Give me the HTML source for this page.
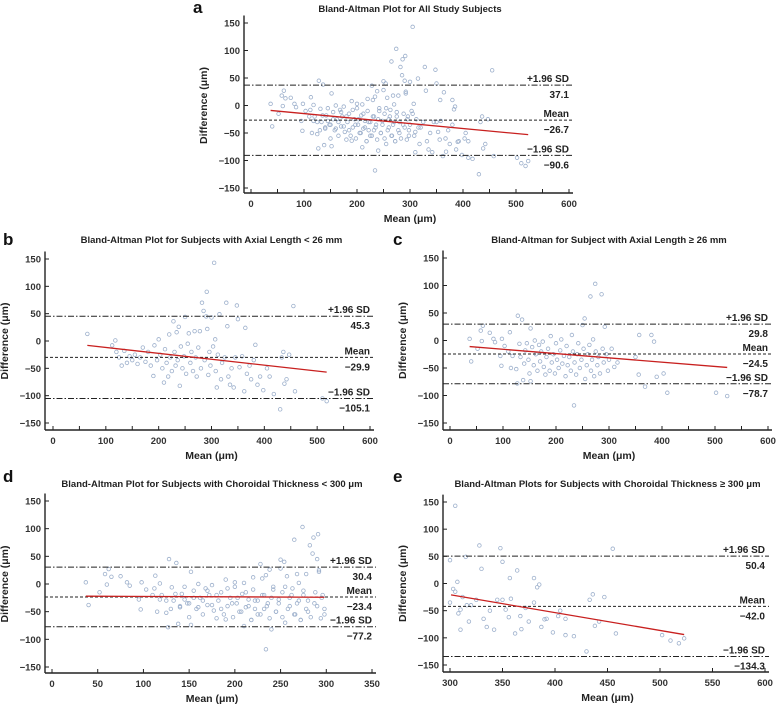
<!DOCTYPE html>
<html><head><meta charset="utf-8"><style>
body{margin:0;background:#fff;width:777px;height:704px;overflow:hidden}
svg{display:block;font-family:"Liberation Sans",Arial,sans-serif}
</style></head><body>
<svg id="fig" width="777" height="704" viewBox="0 0 777 704"></svg>
<script>
// ---- data ----
const longMeans=[37,40,52,58,60,62,75,82,85,95,97,98,103,110,113,115,118,125,127,128,131,133,136,138,140,142,145,148,150,152,152,155,158,160,162,165,168,170,172,175,177,180,182,185,188,190,192,195,198,200,202,205,208,210,212,215,218,220,222,225,228,230,232,234,235,238,240,242,245,248,250,252,254,255,258,260,263,265,266,268,270,272,274,275,278,280,283,286,288,290,292,295,298,300,305,310,316,350,356,357,368,380,385,390,403,410,502,523];
const longDiffs=[3,-38,-15,18,-1,27,14,3,-3,-28,-46,3,-10,-20,15,-50,-28,-52,-78,45,-6,-30,38,-72,-42,-18,-5,-35,-60,-74,22,-12,-45,0,-25,-55,-8,-38,-20,-2,-48,-62,-30,-15,-55,8,-40,-25,-60,-5,-35,-50,-18,2,-42,-28,-65,-10,-45,-30,-55,10,-20,-118,-40,-62,-25,-5,-50,-35,28,-15,40,-70,-45,-25,-8,80,-55,-35,2,-65,103,-20,-45,-30,-60,84,-15,-40,25,-25,-55,-35,-15,-48,-40,-30,-62,10,-84,10,-2,-66,-60,-95,-95,-101];
const shortMeans=[65,112,118,120,125,130,135,140,145,150,155,160,165,170,175,180,185,190,192,197,200,203,207,210,212,215,218,220,222,225,228,230,232,234,236,238,240,242,245,248,250,252,255,257,260,262,265,268,270,272,275,278,280,282,285,287,290,291,292,294,296,298,300,303,305,307,308,310,312,315,318,320,325,328,330,332,335,338,342,345,348,350,353,358,362,364,367,372,375,380,383,387,392,398,405,410,418,430,433,436,438,442,447,455,458,510,518];
const shortDiffs=[13,-8,1,-20,-30,-45,-18,-40,-28,-35,-25,-42,-30,-12,-38,-20,-45,-64,-8,-35,3,-25,-50,-76,-15,-40,-65,12,-30,-55,36,-20,-45,16,-35,26,-82,-10,-50,-28,44,-60,-5,14,-40,-20,-55,18,-30,-65,-12,18,-50,70,55,-35,45,90,22,-62,-20,-45,43,-10,143,3,-55,-85,-25,49,-70,-40,-30,70,27,-65,-80,-50,-85,-30,65,40,-48,-28,-92,24,-60,-45,-70,-35,-7,-80,-65,-90,-50,-65,-97,-125,-30,-20,-78,-70,-25,64,-92,-105,-110];
const limitsA=[37.1,-26.7,-90.6], limitsB=[45.3,-29.9,-105.1], limitsC=[29.8,-24.5,-78.7], limitsD=[30.4,-23.4,-77.2], limitsE=[50.4,-42.0,-134.3];
const regA=[[37,-9],[523,-53]], regB=[[65,-8],[518,-57]], regC=[[37,-11],[523,-49]], regD=[[37,-22],[298,-24]], regE=[[301,-21],[523,-94]];
const yTicks=[150,100,50,0,-50,-100,-150];
const xTicks600=[0,100,200,300,400,500,600], xTicks350=[0,50,100,150,200,250,300,350], xTicksE=[300,350,400,450,500,550,600];

const NS='http://www.w3.org/2000/svg';
const svg=document.getElementById('fig');
function mk(tag,attrs,parent){const e=document.createElementNS(NS,tag);for(const k in attrs)e.setAttribute(k,attrs[k]);(parent||svg).appendChild(e);return e;}
function txt(s,attrs,parent){const e=mk('text',attrs,parent);e.textContent=s;return e;}

function panel(o){
  const g=mk('g',{});
  
  
  const X=v=>o.x0+(v-o.xmin)/(o.xmax-o.xmin)*(o.x1-o.x0);
  const Y=v=>o.y150+(150-v)/300*(o.yn150-o.y150);
  const L=o.left,B=o.bottom;
  const lt=txt(o.letter,{x:o.lx,y:o.ly,'font-size':17,'font-weight':'bold',fill:'#111'},g);
  
  
  const t=txt(o.title,{x:(o.x0+o.x1)/2,y:o.ty,'font-size':9.5,'font-weight':'bold','text-anchor':'middle',fill:'#222'},g);
  
  
  // axes
  mk('line',{x1:L,y1:Y(160)-2,x2:L,y2:B,stroke:'#222','stroke-width':1.4},g);
  mk('line',{x1:L,y1:B,x2:o.x1+4,y2:B,stroke:'#222','stroke-width':1.4},g);
  yTicks.forEach(v=>{
    mk('line',{x1:L,y1:Y(v),x2:L+4,y2:Y(v),stroke:'#222','stroke-width':1},g);
    const e=txt(String(v).replace('-','\u2212'),{x:L-4,y:Y(v)+3.5,'font-size':9.5,'font-weight':'bold','text-anchor':'end',fill:'#333'},g);
    
    
  });
  o.xt.forEach((v,i)=>{
    mk('line',{x1:X(v),y1:B,x2:X(v),y2:B-4,stroke:'#222','stroke-width':1},g);
    if(o.minor&&i<o.xt.length-1){const m=(v+o.xt[i+1])/2;mk('line',{x1:X(m),y1:B,x2:X(m),y2:B-4,stroke:'#222','stroke-width':1},g);}
    const e=txt(String(v),{x:X(v),y:B+14,'font-size':9.5,'font-weight':'bold','text-anchor':'middle',fill:'#333'},g);
    
    
  });
  const xa=txt('Mean (\u03bcm)',{x:(o.x0+o.x1)/2,y:B+29,'font-size':10.5,'font-weight':'bold','text-anchor':'middle',fill:'#222'},g);
  
  
  const yc=(o.y150+o.yn150)/2;
  const ya=txt('Difference (\u03bcm)',{x:L-37,y:yc,'font-size':10.5,'font-weight':'bold','text-anchor':'middle',fill:'#222',transform:`rotate(-90 ${L-37} ${yc})`},g);
  
  
  // points
  o.means.forEach((m,i)=>{
    const c=mk('circle',{cx:X(m),cy:Y(o.diffs[i]),r:1.8,fill:'none',stroke:'#9db0cc','stroke-width':0.8},g);
    
    
  });
  // limit lines
  const names=['upper-loa-line','mean-line','lower-loa-line'];
  const tops=['+1.96 SD','Mean','\u22121.96 SD'];
  o.lim.forEach((v,i)=>{
    const ln=mk('line',{x1:L,y1:Y(v),x2:o.x1+4,y2:Y(v),stroke:'#222','stroke-width':1,'stroke-dasharray':i==1?'3,2':'6,2,1.5,2'},g);
    
    
    const a=txt(tops[i],{x:o.x1,y:Y(v)-3,'font-size':10,'font-weight':'bold','text-anchor':'end',fill:'#222'},g);
    
    
    const b=txt(v.toFixed(1).replace('-','\u2212'),{x:o.x1,y:Y(v)+13,'font-size':10,'font-weight':'bold','text-anchor':'end',fill:'#222'},g);
    
    
  });
  const r=mk('line',{x1:X(o.reg[0][0]),y1:Y(o.reg[0][1]),x2:X(o.reg[1][0]),y2:Y(o.reg[1][1]),stroke:'#c8201f','stroke-width':1.3},g);
  
  
}
const allM=longMeans.concat(shortMeans), allD=longDiffs.concat(shortDiffs);
const dM=[],dD=[],eM=[],eD=[];
allM.forEach((m,i)=>{if(m<300){dM.push(m);dD.push(allD[i]);}else{eM.push(m);eD.push(allD[i]);}});
panel({letter:'a',lx:193,ly:13,title:'Bland-Altman Plot for All Study Subjects',ty:12,x0:251,x1:569,xmin:0,xmax:600,y150:23,yn150:188,left:244,bottom:193,xt:xTicks600,minor:true,means:allM,diffs:allD,lim:limitsA,reg:regA});
panel({letter:'b',lx:3,ly:245,title:'Bland-Altman Plot for Subjects with Axial Length < 26 mm',ty:243,x0:53,x1:370,xmin:0,xmax:600,y150:259,yn150:423,left:45,bottom:430,xt:xTicks600,minor:true,means:shortMeans,diffs:shortDiffs,lim:limitsB,reg:regB});
panel({letter:'c',lx:393,ly:245,title:'Bland-Altman for Subject with Axial Length \u2265 26 mm',ty:243,x0:450,x1:768,xmin:0,xmax:600,y150:258,yn150:423,left:443,bottom:430,xt:xTicks600,minor:true,means:longMeans,diffs:longDiffs,lim:limitsC,reg:regC});
panel({letter:'d',lx:3,ly:482,title:'Bland-Altman Plot for Subjects with Choroidal Thickness < 300 \u03bcm',ty:487,x0:52,x1:372,xmin:0,xmax:350,y150:501,yn150:667,left:45,bottom:673,xt:xTicks350,minor:false,means:dM,diffs:dD,lim:limitsD,reg:regD});
panel({letter:'e',lx:393,ly:482,title:'Bland-Altman Plots for Subjects with Choroidal Thickness \u2265 300 \u03bcm',ty:487,x0:450,x1:765,xmin:300,xmax:600,y150:502,yn150:665,left:443,bottom:672,xt:xTicksE,minor:false,means:eM,diffs:eD,lim:limitsE,reg:regE});
</script>
</body></html>
